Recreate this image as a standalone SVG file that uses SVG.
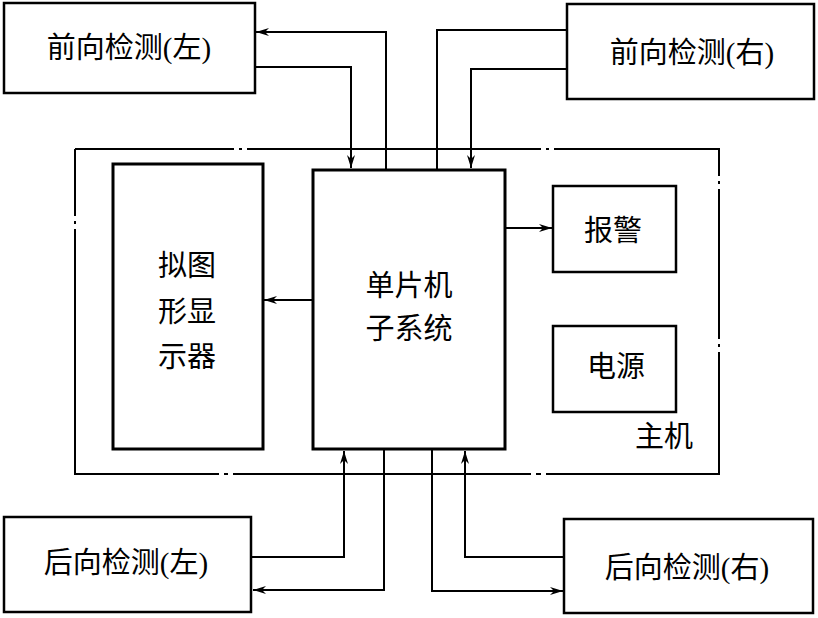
<svg xmlns="http://www.w3.org/2000/svg" width="818" height="618" viewBox="0 0 818 618">
<style>
.box{fill:#fff;stroke:#000;stroke-width:2.5}
.thick{stroke-width:3}
.t{font-family:"Liberation Serif","Noto Sans CJK SC",serif;font-size:29px;fill:#000;text-anchor:middle}
.c{fill:none;stroke:#000;stroke-width:2}
.frame{fill:none;stroke:#000;stroke-width:2}
</style>
<defs>
<marker id="ah" markerUnits="userSpaceOnUse" markerWidth="14" markerHeight="10" refX="13" refY="4" orient="auto">
<path d="M0,0 L13,4 L0,8 L4,4 z" fill="#000"/>
</marker>
</defs>
<rect width="818" height="618" fill="#fff"/>
<g id="frame-main">
<path class="frame" d="M75,149 H234 M239,149 H242 M247,149 H541 M546,149 H549 M554,149 H719 V176 M719,181 V184 M719,189 V339 M719,344 V347 M719,352 V474 H546 M541,474 H536 M531,474 H233 M228,474 H224 M219,474 H75 V229 M75,224 V221 M75,216 V149"/>
<text class="t" x="664" y="447">主机</text>
</g>
<g id="connectors">
<path class="c" d="M386,170 V32 H256" marker-end="url(#ah)"/>
<path class="c" d="M255,67 H351 V168" marker-end="url(#ah)"/>
<path class="c" d="M437,170 V30 H567"/>
<path class="c" d="M567,69 H471 V168" marker-end="url(#ah)"/>
<path class="c" d="M251,557 H344 V451" marker-end="url(#ah)"/>
<path class="c" d="M384,449 V590 H253" marker-end="url(#ah)"/>
<path class="c" d="M432,449 V591 H563" marker-end="url(#ah)"/>
<path class="c" d="M564,557 H465 V451" marker-end="url(#ah)"/>
<path class="c" d="M505,228 H552" marker-end="url(#ah)"/>
<path class="c" d="M313,300 H264" marker-end="url(#ah)"/>
</g>
<g id="front-left">
<rect class="box" x="4" y="3" width="251" height="90"/>
<text class="t" x="129" y="58">前向检测(左)</text>
</g>
<g id="front-right">
<rect class="box" x="567" y="4" width="247" height="95"/>
<text class="t" x="692" y="63">前向检测(右)</text>
</g>
<g id="rear-left">
<rect class="box" x="4" y="517" width="247" height="95"/>
<text class="t" x="126" y="573">后向检测(左)</text>
</g>
<g id="rear-right">
<rect class="box" x="564" y="519" width="249" height="94"/>
<text class="t" x="687" y="578">后向检测(右)</text>
</g>
<g id="display">
<rect class="box thick" x="113" y="164" width="150" height="285"/>
<text class="t" x="187" y="276">拟图</text>
<text class="t" x="187" y="322">形显</text>
<text class="t" x="187" y="367">示器</text>
</g>
<g id="mcu">
<rect class="box thick" x="313" y="170" width="192" height="279"/>
<text class="t" x="409" y="296">单片机</text>
<text class="t" x="409" y="339">子系统</text>
</g>
<g id="alarm">
<rect class="box" x="553" y="186" width="123" height="86"/>
<text class="t" x="613" y="241">报警</text>
</g>
<g id="power">
<rect class="box" x="553" y="326" width="123" height="86"/>
<text class="t" x="616" y="377">电源</text>
</g>
</svg>
